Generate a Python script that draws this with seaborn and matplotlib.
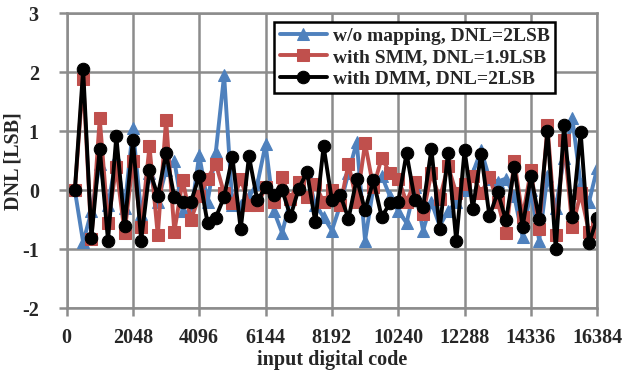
import numpy as np
import pandas as pd
import matplotlib
matplotlib.use("Agg")
import matplotlib.pyplot as plt
import seaborn as sns

codes = [256 * k for k in range(1, 65)]
x_ticks = [0, 2048, 4096, 6144, 8192, 10240, 12288, 14336, 16384]
y_ticks = [-2, -1, 0, 1, 2, 3]

dnl_no_map = [0, -0.88, -0.35, 0.45, -0.25, 0.55, -0.3, 1.05, -0.4, 0.3,
              -0.2, 0.35, 0.5, -0.35, -0.4, 0.6, -0.2, 0.65, 1.95, -0.25,
              -0.25, -0.1, 0.1, 0.78, -0.35, -0.72, -0.15, 0.1, 0.3, -0.25,
              -0.45, -0.68, -0.25, 0.3, 0.82, -0.85, 0.05, 0.25, -0.1, -0.35,
              -0.55, 0.05, -0.68, -0.2, -0.6, -0.35, -0.2, 0.0, 0.3, 0.68,
              0.2, 0.15, 0.2, -0.1, -0.79, 0.0, -0.85, 0.25, -0.3, 0.55,
              1.22, 0.1, -0.2, 0.38]
dnl_smm = [0, 1.88, -0.82, 1.22, -0.55, 0.4, -0.72, 0.5, -0.62, 0.75,
           -0.76, 1.2, -0.7, 0.17, -0.5, -0.1, 0.2, 0.45, -0.05, -0.22,
           0.2, -0.25, -0.25, 0.05, -0.2, 0.22, -0.15, 0.15, -0.12, 0.1,
           -0.2, 0.0, -0.25, 0.45, -0.2, 0.8, 0.05, 0.55, 0.3, 0.2,
           -0.2, 0.15, -0.4, 0.3, -0.15, 0.42, -0.05, 0.1, 0.25, -0.05,
           0.23, -0.2, -0.73, 0.5, -0.45, 0.34, -0.65, 1.1, -0.75, 0.85,
           -0.62, -0.05, -0.7, -0.56]
dnl_dmm = [0, 2.05, -0.80, 0.71, -0.85, 0.92, -0.61, 0.85, -0.85, 0.34,
           -0.09, 0.63, -0.12, -0.20, -0.20, 0.25, -0.55, -0.46, -0.11, 0.57,
           -0.66, 0.58, -0.17, 0.05, -0.07, 0.01, -0.44, 0.03, 0.31, -0.54,
           0.75, -0.17, -0.07, -0.48, 0.20, -0.34, 0.17, -0.45, -0.22, -0.20,
           0.63, -0.16, -0.28, 0.70, -0.66, 0.63, -0.86, 0.68, -0.31, 0.62,
           -0.44, -0.03, -0.51, 0.39, -0.62, 0.24, -0.48, 1.0, -1.0, 1.11,
           -0.45, 0.99, -0.90, -0.47]

labels = ["w/o mapping, DNL=2LSB", "with SMM, DNL=1.9LSB", "with DMM, DNL=2LSB"]
colors = ["#4F81BD", "#C0504D", "#000000"]
markers = ["^", "s", "o"]
sizes = [9, 9, 9]

sns.set_style("white")
plt.rcParams['font.family'] = ['Liberation Serif', 'DejaVu Serif']
plt.rcParams['font.weight'] = 'bold'

fig = plt.figure(figsize=(6.28, 3.72), dpi=100)
ax = fig.add_axes([0.106, 0.171, 0.845, 0.793])

for vals, lab, c, m, s in zip([dnl_no_map, dnl_smm, dnl_dmm], labels, colors, markers, sizes):
    df = pd.DataFrame({"code": codes, "dnl": vals})
    sns.lineplot(data=df, x="code", y="dnl", ax=ax, color=c, marker=m,
                 markersize=s, markeredgecolor=c, linewidth=2.8, label=lab)

ax.set_xlim(0, 16384)
ax.set_ylim(-2, 3)
ax.set_xticks(x_ticks)
ax.set_yticks(y_ticks)
ax.set_xticklabels([str(t) for t in x_ticks], fontsize=14.5, fontweight='bold')
ax.set_yticklabels([str(t) for t in y_ticks], fontsize=14.5, fontweight='bold')
ax.grid(True, color="#8c8c8c", linewidth=1.8)
ax.set_axisbelow(True)
for sp in ax.spines.values():
    sp.set_visible(True)
    sp.set_color("#8c8c8c")
    sp.set_linewidth(1.8)
ax.tick_params(axis='x', direction='out', length=6, width=1.8, color="#8c8c8c",
               pad=8, bottom=True)
ax.tick_params(axis='y', direction='out', length=6, width=1.8, color="#8c8c8c",
               pad=14, left=True)
ax.set_xlabel("input digital code", fontsize=14.5, fontweight='bold', labelpad=1.5)
ax.set_ylabel("DNL [LSB]", fontsize=14.5, fontweight='bold', labelpad=-1)

leg = ax.legend(loc="upper right", bbox_to_anchor=(0.921, 0.972), frameon=True,
                fancybox=False, edgecolor="black", framealpha=1,
                prop={'family': 'Liberation Serif', 'weight': 'bold', 'size': 14},
                handlelength=2.4, handletextpad=0.3, borderpad=0.3, labelspacing=0.18,
                borderaxespad=0)
leg.get_frame().set_linewidth(1.8)

fig.savefig("out.png", dpi=100)
